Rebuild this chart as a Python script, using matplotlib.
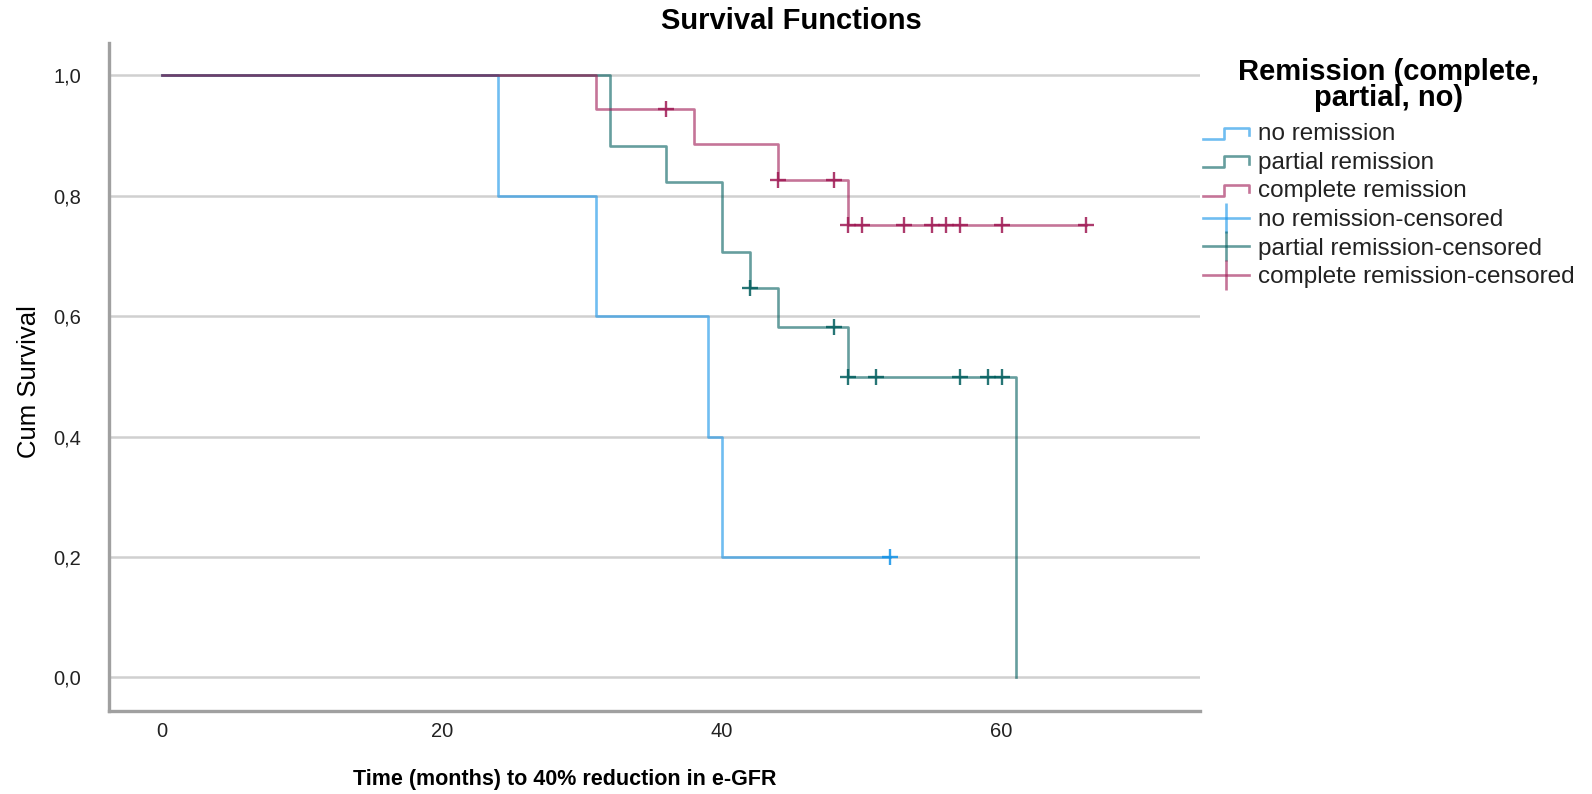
import numpy as np
import matplotlib
matplotlib.use("Agg")
import matplotlib.pyplot as plt
from matplotlib import font_manager as fm
from matplotlib.lines import Line2D
from matplotlib.legend_handler import HandlerLine2D

# groups, event times and censored times (months)
groups = ["no remission", "partial remission", "complete remission"]
colors = ["#1192e8", "#005d5d", "#9f1853"]

no_events = [24, 31, 39, 40]
no_censored = [52]

partial_events = [32, 32, 36, 40, 40, 42, 44, 49, 61]
partial_censored = [42, 48, 48, 49, 51, 57, 59, 60]

complete_events = [31, 38, 44, 49]
complete_censored = [36, 44, 48, 48, 49, 50, 50, 53, 55, 56, 57, 60, 60, 66]

events = [no_events, partial_events, complete_events]
censored = [no_censored, partial_censored, complete_censored]

yticks = [0.0, 0.2, 0.4, 0.6, 0.8, 1.0]
xticks = [0, 20, 40, 60]

names = {f.name for f in fm.fontManager.ttflist}
if "Liberation Sans Narrow" in names:
    narrow = "Liberation Sans Narrow"
    xlab_size, ylab_size, tick_size = 18, 20, 17
else:
    narrow = "Liberation Sans"
    xlab_size, ylab_size, tick_size = 15.5, 18.5, 14.5


def km(ev, ce):
    # kaplan-meier step curve
    n = len(ev) + len(ce)
    times = sorted(set(ev) | set(ce))
    s = 1.0
    xs, ys = [0], [1.0]
    cx, cy = [], []
    for t in times:
        d = ev.count(t)
        c = ce.count(t)
        if d:
            s = s * (n - d) / n
            xs.append(t)
            ys.append(s)
        if c:
            cx.append(t)
            cy.append(s)
        n -= d + c
    xs.append(times[-1])
    ys.append(s)
    return xs, ys, cx, cy


class StepHandler(HandlerLine2D):
    def create_artists(self, legend, orig_handle, xdescent, ydescent,
                       width, height, fontsize, trans):
        x0 = -xdescent
        y0 = -ydescent
        xs = [x0, x0 + width * 0.45, x0 + width * 0.45, x0 + width, x0 + width]
        ys = [y0 + height * 0.1, y0 + height * 0.1, y0 + height * 0.75,
              y0 + height * 0.75, y0 + height * 0.3]
        ln = Line2D(xs, ys, color=orig_handle.get_color(),
                    lw=orig_handle.get_linewidth(), alpha=orig_handle.get_alpha())
        ln.set_transform(trans)
        return [ln]


fig = plt.figure(figsize=(15.92, 7.94), dpi=100)
ax = fig.add_axes([0.0682, 0.1045, 0.754 - 0.0682, 0.946 - 0.1045])

for y in yticks:
    ax.axhline(y, color="#d0d0d0", lw=1.8, zorder=0)

line_handles = []
cens_handles = []
for g, ev, ce, col in zip(groups, events, censored, colors):
    xs, ys, cx, cy = km(ev, ce)
    ln, = ax.step(xs, ys, where="post", color=col, lw=1.9, alpha=0.6, label=g)
    ax.plot(cx, cy, ls="none", marker="+", ms=12, mew=1.7, color=col, alpha=0.85)
    line_handles.append(ln)
    cens_handles.append(Line2D([], [], ls="-", lw=1.9, marker="|", ms=21, mew=1.9,
                               color=col, alpha=0.6))

ax.set_xlim(-3.8, 74.2)
ax.set_ylim(-0.056, 1.054)
ax.set_xticks(xticks)
ax.set_yticks(yticks)
ax.set_yticklabels([("%.1f" % v).replace(".", ",") for v in yticks])
ax.tick_params(length=0, labelsize=tick_size, colors="#222222")
ax.tick_params(axis="y", pad=20)
ax.tick_params(axis="x", pad=8)
for lab in ax.get_xticklabels() + ax.get_yticklabels():
    lab.set_family(narrow)
for s in ["top", "right"]:
    ax.spines[s].set_visible(False)
for s in ["left", "bottom"]:
    ax.spines[s].set_color("#a0a0a0")
    ax.spines[s].set_linewidth(2.4)

fig.text(0.497, 0.974, "Survival Functions", ha="center", va="center",
         fontsize=21, fontweight="bold", family="Liberation Sans")
fig.text(0.018, 0.52, "Cum Survival", rotation=90, ha="center", va="center",
         fontsize=ylab_size, family=narrow)
fig.text(0.355, 0.0185, "Time (months) to 40% reduction in e-GFR", ha="center",
         va="center", fontsize=xlab_size, fontweight="bold", family=narrow)

labels = groups + [g + "-censored" for g in groups]
leg = fig.legend(line_handles + cens_handles, labels,
                 loc="upper left", bbox_to_anchor=(0.7556, 0.927),
                 borderaxespad=0, borderpad=0,
                 frameon=False, handlelength=1.9, handletextpad=0.35,
                 labelspacing=0.27, numpoints=1,
                 title="Remission (complete,\npartial, no)",
                 title_fontproperties={"size": 21, "weight": "bold",
                                       "family": "Liberation Sans"},
                 prop={"family": "Liberation Sans", "size": 17.5},
                 handler_map={ln: StepHandler() for ln in line_handles})
for t in leg.get_texts():
    t.set_color("#222222")
leg.get_title().set_multialignment("center")
leg.get_title().set_linespacing(0.92)
leg._legend_box.sep = 8.0

fig.savefig("out.png", dpi=100)
